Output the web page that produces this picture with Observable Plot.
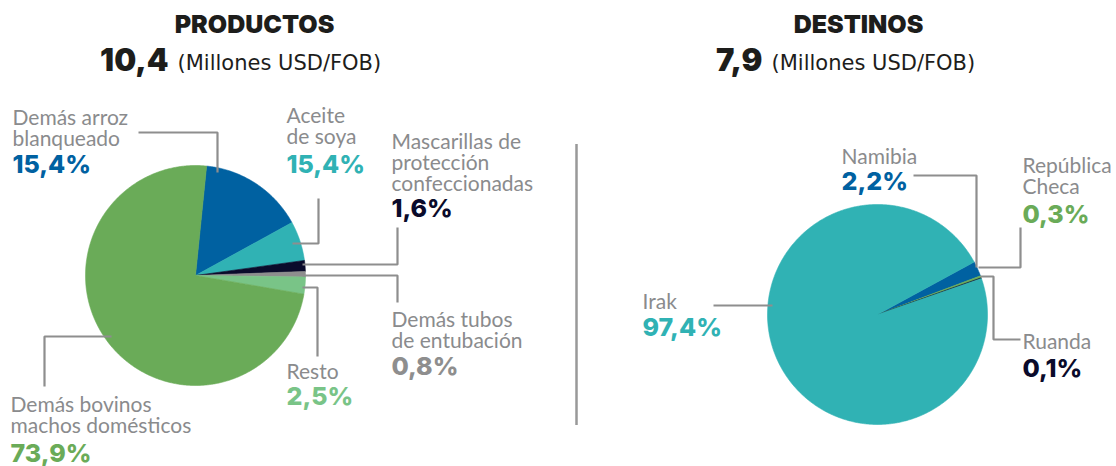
<!DOCTYPE html>
<html><head><meta charset="utf-8">
<script src="https://cdn.jsdelivr.net/npm/d3@7"></script>
<script src="https://cdn.jsdelivr.net/npm/@observablehq/plot@0.6"></script>
<style>body{margin:0;background:#fff}</style>
</head><body><div id="chart"></div>
<script>
// ---- data ----
const titles = ["PRODUCTOS", "DESTINOS"];
const totals = ["10,4", "7,9"];
const unit = "(Millones USD/FOB)";

const productNames = ["Demás arroz\nblanqueado", "Aceite\nde soya", "Mascarillas de\nprotección\nconfeccionadas", "Demás tubos\nde entubación", "Resto", "Demás bovinos\nmachos domésticos"];
const productLabels = ["15,4%", "15,4%", "1,6%", "0,8%", "2,5%", "73,9%"];
const productShares = [15.4, 5.8, 1.6, 0.8, 2.5, 73.9]; // slice sizes as drawn
const productColors = ["#0061a1", "#30b2b4", "#0a0b2b", "#8e8e8e", "#79c487", "#6aab58"];

const destNames = ["Namibia", "República\nCheca", "Ruanda", "Irak"];
const destLabels = ["2,2%", "0,3%", "0,1%", "97,4%"];
const destShares = [2.2, 0.3, 0.1, 97.4];
const destColors = ["#0061a1", "#6aab58", "#0a0b2b", "#30b2b4"];

// ---- layout ----
const W = 1116, H = 466;
const pies = [
  {names: productNames, shares: productShares, cx: 195, cy: 275, r: 110, start: 5.8},
  {names: destNames, shares: destShares, cx: 877, cy: 314, r: 110, start: 61.5}
];
const titleX = [254, 858];
const totalEndX = [168, 762];
const productLabelPos = [[12,145,172],[286,143,172],[391,190,216],[391,347,374],[286,378,404],[10,432,461]];
const destLabelPos = [[841,163,189],[1022,193,222],[1022,348,376],[642,308,335]];
const productLeaders = [
  [[138,132],[217,132],[217,172]],
  [[318,198],[318,243],[292,243]],
  [[397,227],[397,264],[302,264]],
  [[302,275],[397,275],[397,302]],
  [[302,287],[317,287],[317,356]],
  [[111,336],[44,336],[44,386]]
];
const destLeaders = [
  [[913,175],[976,175],[976,267]],
  [[1020,227],[1020,267],[978,267]],
  [[980,276],[993,276],[993,339],[1020,339]],
  [[713,305],[772,305]]
];

// ---- build slice polygons ----
const slicePts = [];
for (const p of pies) {
  const total = d3.sum(p.shares);
  let a0 = p.start;
  p.names.forEach((name, i) => {
    const a1 = a0 + p.shares[i] / total * 360;
    slicePts.push({key: name, x: p.cx, y: p.cy});
    const n = Math.max(2, Math.ceil((a1 - a0) / 0.5));
    for (let k = 0; k <= n; k++) {
      const a = (a0 + (a1 - a0) * k / n) * Math.PI / 180;
      slicePts.push({key: name, x: p.cx + p.r * Math.sin(a), y: p.cy - p.r * Math.cos(a)});
    }
    slicePts.push({key: name, x: p.cx, y: p.cy});
    a0 = a1;
  });
}

const leaderPts = [];
[...productLeaders, ...destLeaders].forEach((pts, i) => pts.forEach(([x, y]) => leaderPts.push({id: i, x, y})));

const allNames = [...productNames, ...destNames];
const allLabels = [...productLabels, ...destLabels];
const allColors = [...productColors, ...destColors];
const allPos = [...productLabelPos, ...destLabelPos];
const labelRows = allNames.map((name, i) => ({name, label: allLabels[i], color: allColors[i], x: allPos[i][0], yName: allPos[i][1], yPct: allPos[i][2]}));

const boldFont = "Inter, 'Open Sans', sans-serif";
const lightFont = "Lato, 'Noto Sans', sans-serif";

const chart = Plot.plot({
  width: W, height: H,
  margin: 0,
  x: {domain: [0, W], range: [0, W], axis: null},
  y: {domain: [0, H], range: [0, H], axis: null},
  color: {domain: allNames, range: allColors},
  marks: [
    Plot.line(slicePts, {x: "x", y: "y", z: "key", fill: "key", stroke: "key", strokeWidth: 0.6, curve: "linear"}),
    Plot.line(leaderPts, {x: "x", y: "y", z: "id", stroke: "#8e8e8e", strokeWidth: 2.2, strokeLinejoin: "miter", strokeLinecap: "butt"}),
    Plot.ruleX([576], {y1: 144, y2: 425, stroke: "#999999", strokeWidth: 2.5}),
    Plot.text(labelRows, {x: "x", y: "yName", text: "name", textAnchor: "start", lineAnchor: "bottom", lineHeight: 1, fontSize: 21, fill: "#8a8b8d", fontFamily: lightFont}),
    Plot.text(labelRows, {x: "x", y: "yPct", text: "label", textAnchor: "start", lineAnchor: "bottom", fontSize: 25, fontWeight: 800, fill: "color", fontFamily: boldFont}),
    Plot.text(titles, {x: (d, i) => titleX[i], y: 32, text: d => d, lineAnchor: "bottom", fontSize: 25, fontWeight: 900, fill: "#1d1d1b", fontFamily: boldFont}),
    Plot.text(totals, {x: (d, i) => totalEndX[i], y: 70, text: d => d, textAnchor: "end", lineAnchor: "bottom", fontSize: 31, fontWeight: 900, fill: "#1d1d1b", fontFamily: boldFont}),
    Plot.text(totals, {x: (d, i) => totalEndX[i] + 9, y: 69, text: () => unit, textAnchor: "start", lineAnchor: "bottom", fontSize: 21, fontWeight: 400, fill: "#1d1d1b", fontFamily: "'DejaVu Sans', sans-serif"})
  ]
});
document.getElementById("chart").appendChild(chart);
</script>
</body></html>
